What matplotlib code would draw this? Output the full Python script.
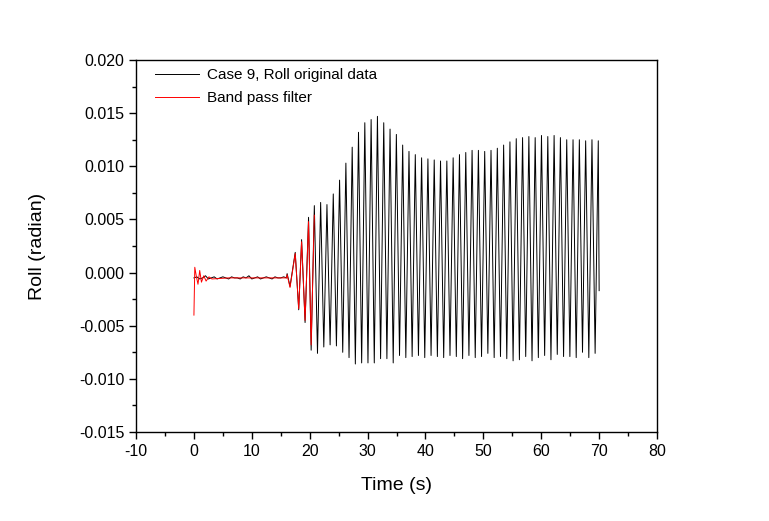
import numpy as np
import matplotlib
matplotlib.use("Agg")
import matplotlib.pyplot as plt
from matplotlib.ticker import MultipleLocator

plt.rcParams['font.family'] = ['Liberation Sans', 'DejaVu Sans']
plt.rcParams['axes.unicode_minus'] = False

# flat part before the roll builds up (black, every 0.5 s from t = 0)
quiet_t = np.arange(0, 16.0, 0.5)
quiet_black = [-0.0005, -0.0004, -0.0006, -0.0005, -0.0003, -0.0006, -0.0005, -0.0004,
               -0.0006, -0.0005, -0.0004, -0.0005, -0.0006, -0.0004, -0.0005, -0.0005,
               -0.0006, -0.0004, -0.0005, -0.0003, -0.0006, -0.0005, -0.0004, -0.0006,
               -0.0005, -0.0004, -0.0005, -0.0006, -0.0004, -0.0005, -0.0005, -0.0004]

# build-up between 16 s and 20.8 s
build_t = [16.0, 16.1, 16.6, 17.5, 18.1, 18.6, 19.2, 19.8, 20.25]
build_black = [-0.0005, -0.0001, -0.0013, 0.0019, -0.0035, 0.0031, -0.0047, 0.0052, -0.0073]

# steady rolling: one peak and one trough per cycle
period = 1.09
first_peak = 20.8
peaks = [0.0063, 0.0066, 0.0064, 0.0074, 0.0087, 0.0103, 0.0118, 0.0132, 0.0141, 0.0144,
         0.0147, 0.0141, 0.0135, 0.0130, 0.0120, 0.0114, 0.0111, 0.0108, 0.0107, 0.0106,
         0.0105, 0.0105, 0.0108, 0.0111, 0.0113, 0.0115, 0.0115, 0.0114, 0.0115, 0.0117,
         0.0120, 0.0123, 0.0126, 0.0127, 0.0128, 0.0127, 0.0129, 0.0128, 0.0129, 0.0127,
         0.0125, 0.0125, 0.0125, 0.0124, 0.0125, 0.0124]
troughs = [-0.0076, -0.0070, -0.0068, -0.0069, -0.0075, -0.0080, -0.0086, -0.0085, -0.0085,
           -0.0085, -0.0081, -0.0081, -0.0085, -0.0078, -0.0080, -0.0079, -0.0078, -0.0080,
           -0.0078, -0.0079, -0.0080, -0.0078, -0.0079, -0.0081, -0.0078, -0.0080, -0.0079,
           -0.0076, -0.0080, -0.0079, -0.0081, -0.0083, -0.0082, -0.0079, -0.0083, -0.0080,
           -0.0078, -0.0082, -0.0077, -0.0079, -0.0079, -0.0080, -0.0075, -0.0080, -0.0076]
end_t = 70.0
end_val = -0.0017

# band pass filter (red)
red_t = [0.0, 0.15, 0.4, 0.7, 1.0, 1.3, 1.7, 2.1, 2.6, 3.1, 6.0, 9.0, 12.0, 15.0, 16.0,
         16.1, 16.6, 17.5, 18.1, 18.6, 19.2, 19.8, 20.25, 20.8]
red_val = [-0.0040, 0.0005, -0.0003, -0.0011, 0.0002, -0.0009, -0.0003, -0.0008, -0.0004,
           -0.0006, -0.0005, -0.0005, -0.0005, -0.0005, -0.0005,
           -0.0002, -0.0014, 0.0018, -0.0034, 0.0029, -0.0045, 0.0048, -0.0068, 0.0054]

peak_t = first_peak + period * np.arange(len(peaks))
trough_t = peak_t[:-1] + period / 2
main_t = np.empty(len(peaks) + len(troughs))
main_v = np.empty(len(peaks) + len(troughs))
main_t[0::2] = peak_t
main_t[1::2] = trough_t
main_v[0::2] = peaks
main_v[1::2] = troughs

black_t = np.concatenate([quiet_t, build_t, main_t, [end_t]])
black_v = np.concatenate([quiet_black, build_black, main_v, [end_val]])

fig = plt.figure(figsize=(7.69, 5.21), dpi=100)
ax = fig.add_axes([0.1769, 0.1708, 0.6775, 0.714])

ax.plot(black_t, black_v, color='black', lw=0.7, label='Case 9, Roll original data', zorder=2)
ax.plot(red_t, red_val, color='red', lw=0.7, label='Band pass filter', zorder=3)

ax.set_xlim(-10, 80)
ax.set_ylim(-0.015, 0.020)
ax.xaxis.set_major_locator(MultipleLocator(10))
ax.xaxis.set_minor_locator(MultipleLocator(5))
ax.yaxis.set_major_locator(MultipleLocator(0.005))
ax.yaxis.set_minor_locator(MultipleLocator(0.0025))
ax.yaxis.set_major_formatter(plt.FormatStrFormatter('%.3f'))
ax.tick_params(which='major', length=5, width=1, labelsize=11.5)
ax.tick_params(which='minor', length=3, width=1)
for s in ax.spines.values():
    s.set_linewidth(1)

ax.set_xlabel('Time (s)', fontsize=14, labelpad=13)
ax.set_ylabel('Roll (radian)', fontsize=14, labelpad=24)

ax.legend(loc='upper left', bbox_to_anchor=(0.01, 1.015), frameon=False, fontsize=11,
          handlelength=2.9, handletextpad=0.5, labelspacing=0.6)

fig.savefig('out.png', dpi=100)
